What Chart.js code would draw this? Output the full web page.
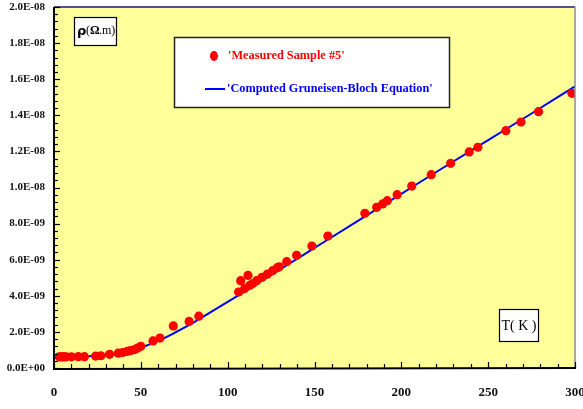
<!DOCTYPE html>
<html>
<head>
<meta charset="utf-8">
<script src="https://cdn.jsdelivr.net/npm/chart.js@4"></script>
<style>
    html, body { margin: 0; padding: 0; background: #ffffff; }
    #wrap { width: 583px; height: 409px; position: relative; }
</style>
</head>
<body>
<div id="wrap"><canvas id="chart"></canvas></div>
<script>
// measured points, rho in units of 1E-09 ohm.m
const measuredT = [3, 4, 5, 6, 7, 10, 14, 17.5, 24, 27, 32, 37, 39.5, 42, 44, 46.5, 48, 50, 57, 61,
    68.7, 77.8, 83.4, 106.3, 107.5, 109.8, 111.7, 112.8, 114.5, 116.7, 119.7, 122.8, 125.9, 128.6, 129.7,
    134, 139.7, 148.5, 157.7, 179, 185.8, 189.2, 191.9, 197.6, 206, 217.2, 228.4, 239.1, 244.1, 260.2,
    268.9, 279, 298.2];
const measuredRho = [0.62, 0.62, 0.62, 0.62, 0.62, 0.62, 0.63, 0.63, 0.66, 0.68, 0.76, 0.82, 0.86, 0.92, 0.96,
    1.02, 1.1, 1.2, 1.5, 1.66, 2.33, 2.58, 2.87, 4.21, 4.84, 4.41, 5.13, 4.58, 4.68, 4.84, 5.02, 5.2, 5.39,
    5.56, 5.61, 5.89, 6.24, 6.76, 7.31, 8.57, 8.9, 9.09, 9.27, 9.6, 10.08, 10.71, 11.34, 11.97, 12.23, 13.15,
    13.63, 14.2, 15.22];

// computed Gruneisen-Bloch curve
const curveT = [0, 10, 20, 30, 40, 50, 60, 70, 80, 90, 100, 110, 120, 130, 140, 150, 175, 200, 225, 250, 275, 300];
const curveRho = [0.62, 0.62, 0.65, 0.71, 0.82, 1.12, 1.5, 1.98, 2.5, 3.08, 3.66, 4.25, 4.85, 5.45, 6.05, 6.65,
    8.15, 9.65, 11.15, 12.63, 14.1, 15.6];

const UNIT = 1e-9;
const seriesNames = ["'Measured Sample #5'", "'Computed Gruneisen-Bloch Equation'"];
const xTicks = [0, 50, 100, 150, 200, 250, 300];

const SERIF = "'Liberation Serif', 'Times New Roman', serif";

function fmtSci(v) {
    if (Math.abs(v) < 1e-15) return "0.0E+00";
    const e = Math.floor(Math.log10(Math.abs(v)) + 1e-9);
    const m = v / Math.pow(10, e);
    const ee = String(Math.abs(e)).padStart(2, "0");
    return m.toFixed(1) + "E" + (e < 0 ? "-" : "+") + ee;
}

function noPad(s) {
    s.paddingLeft = 0;
    s.paddingRight = 0;
    s.paddingTop = 0;
    s.paddingBottom = 0;
}

const frame = {
    id: "frame",
    beforeDraw(c) {
        const { ctx, chartArea: a } = c;
        ctx.save();
        ctx.fillStyle = "#ffff99";
        ctx.fillRect(a.left, a.top, a.right - a.left, a.bottom - a.top);
        ctx.restore();
    },
    afterDatasetsDraw(c) {
        const { ctx, chartArea: a, scales } = c;
        const x = scales.x, y = scales.y;
        ctx.save();
        // borders
        ctx.lineWidth = 1.5;
        ctx.strokeStyle = "#1a1a6e";
        ctx.beginPath(); ctx.moveTo(a.left, a.top); ctx.lineTo(a.right, a.top); ctx.stroke();
        ctx.strokeStyle = "#8a8a9a";
        ctx.beginPath(); ctx.moveTo(a.right, a.top); ctx.lineTo(a.right, a.bottom); ctx.stroke();
        ctx.strokeStyle = "#000000";
        ctx.lineWidth = 2;
        ctx.beginPath(); ctx.moveTo(a.left, a.top); ctx.lineTo(a.left, a.bottom + 1); ctx.lineTo(a.right + 1, a.bottom); ctx.stroke();

        // inward ticks
        ctx.lineWidth = 1.2;
        for (let t = 0; t <= 300; t += 10) {
            const px = Math.round(x.getPixelForValue(t)) + 0.5;
            const len = t % 50 === 0 ? 6 : 4;
            ctx.beginPath(); ctx.moveTo(px, a.bottom); ctx.lineTo(px, a.bottom - len); ctx.stroke();
        }
        for (let i = 0; i <= 50; i++) {
            const py = Math.round(y.getPixelForValue(i * 0.4 * UNIT)) + 0.5;
            const len = i % 5 === 0 ? 6 : 4;
            ctx.beginPath(); ctx.moveTo(a.left, py); ctx.lineTo(a.left + len, py); ctx.stroke();
        }

        // axis title boxes
        ctx.lineWidth = 1.2;
        ctx.fillStyle = "#ffffff";
        ctx.fillRect(74.5, 17.5, 42, 28);
        ctx.strokeRect(74.5, 17.5, 42, 28);
        ctx.fillStyle = "#000000";
        ctx.textBaseline = "middle";
        ctx.textAlign = "left";
        ctx.font = "bold 13px 'DejaVu Sans', sans-serif";
        ctx.fillText("ρ", 77, 32);
        ctx.font = "12px " + SERIF;
        ctx.fillText("(", 86, 31);
        ctx.font = "bold 12px " + SERIF;
        ctx.fillText("Ω", 90, 31);
        ctx.font = "12px " + SERIF;
        ctx.fillText(".m)", 99, 31);

        ctx.fillStyle = "#ffffff";
        ctx.fillRect(499.5, 309.5, 39, 32);
        ctx.strokeRect(499.5, 309.5, 39, 32);
        ctx.fillStyle = "#000000";
        ctx.font = "14px " + SERIF;
        ctx.textAlign = "center";
        ctx.fillText("T( K )", 519, 326);

        // legend box
        ctx.fillStyle = "#ffffff";
        ctx.fillRect(174.5, 37.5, 275, 70);
        ctx.strokeStyle = "#222222";
        ctx.lineWidth = 1.5;
        ctx.strokeRect(174.5, 37.5, 275, 70);
        ctx.textAlign = "left";
        ctx.font = "bold 12.3px " + SERIF;
        ctx.fillStyle = "#ff0000";
        ctx.beginPath(); ctx.ellipse(214, 56, 4, 5, 0, 0, Math.PI * 2); ctx.fill();
        ctx.fillText(seriesNames[0], 228, 56);
        ctx.strokeStyle = "#0000ff";
        ctx.lineWidth = 2;
        ctx.beginPath(); ctx.moveTo(205, 89); ctx.lineTo(225, 89); ctx.stroke();
        ctx.fillStyle = "#0000ff";
        ctx.fillText(seriesNames[1], 227, 89);
        ctx.restore();
    }
};

new Chart(document.getElementById("chart"), {
    type: "scatter",
    data: {
        datasets: [
            {
                label: seriesNames[0],
                data: measuredT.map((t, i) => ({ x: t, y: measuredRho[i] * UNIT })),
                pointStyle: "circle",
                pointRadius: 4.6,
                backgroundColor: "#ff0000",
                borderColor: "#ff0000",
                borderWidth: 0,
                order: 1
            },
            {
                label: seriesNames[1],
                type: "line",
                data: curveT.map((t, i) => ({ x: t, y: curveRho[i] * UNIT })),
                borderColor: "#0000ff",
                borderWidth: 2,
                pointRadius: 0,
                fill: false,
                cubicInterpolationMode: "monotone",
                order: 2
            }
        ]
    },
    options: {
        responsive: true,
        maintainAspectRatio: false,
        animation: false,
        layout: { padding: { left: 0, right: 8, top: 7, bottom: 0 } },
        plugins: {
            legend: { display: false },
            tooltip: { enabled: false }
        },
        scales: {
            x: {
                type: "linear",
                min: 0,
                max: 300,
                grid: { display: false, drawTicks: false },
                border: { display: false },
                afterFit: s => { s.height = 41; noPad(s); },
                afterBuildTicks: s => { s.ticks = xTicks.map(v => ({ value: v })); },
                ticks: {
                    padding: 17,
                    color: "#111111",
                    font: { family: SERIF, size: 13, weight: "bold" }
                }
            },
            y: {
                min: 0,
                max: 20 * UNIT,
                grid: { display: false, drawTicks: false },
                border: { display: false },
                afterFit: s => { s.width = 54; noPad(s); },
                ticks: {
                    stepSize: 2 * UNIT,
                    padding: 9,
                    color: "#111111",
                    font: { family: SERIF, size: 11, weight: "bold" },
                    callback: v => fmtSci(v)
                }
            }
        }
    },
    plugins: [frame]
});
</script>
</body>
</html>
